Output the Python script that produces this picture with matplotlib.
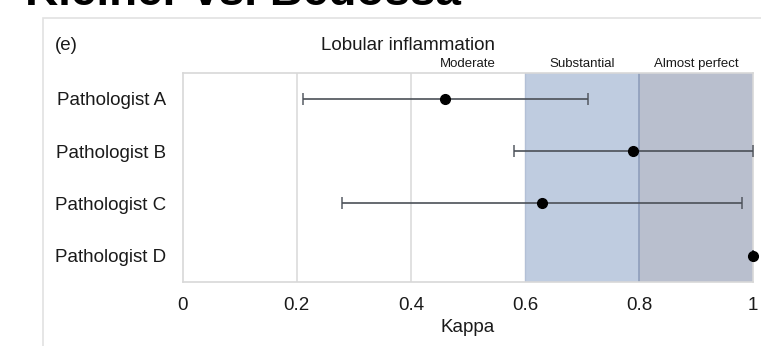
import numpy as np
import matplotlib
matplotlib.use('Agg')
import matplotlib.pyplot as plt
from matplotlib.patches import Rectangle

plt.rcParams['font.family'] = ['Liberation Sans', 'DejaVu Sans']

# data
pathologists = ['Pathologist A', 'Pathologist B', 'Pathologist C', 'Pathologist D']
kappa = [0.46, 0.79, 0.63, 1.0]
ci_low = [0.21, 0.58, 0.28, 1.0]
ci_high = [0.71, 1.0, 0.98, 1.0]
xticks = [0, 0.2, 0.4, 0.6, 0.8, 1]
xticklabels = ['0', '0.2', '0.4', '0.6', '0.8', '1']
bands = ['Moderate', 'Substantial', 'Almost perfect']
band_centers = [0.5, 0.7, 0.9]

W, H = 761, 346
fig = plt.figure(figsize=(W / 100, H / 100), dpi=100)

# outer panel frame (cut by the crop)
fig.patches.append(Rectangle((43 / W, -0.1), 1.0, 1 - 18 / H + 0.1,
                             transform=fig.transFigure, fill=False,
                             edgecolor='#e2e2e2', linewidth=1.2))

# big heading, cropped at the top edge like in the source
fig.text(25 / W, 1 - 5 / H, 'Kleiner vs. Bedossa', fontsize=33,
         fontweight='bold', ha='left', va='baseline', color='black')

ax = fig.add_axes([182.7 / W, 1 - 281.7 / H, (753.3 - 182.7) / W, 209 / H])

# agreement bands
ax.axvspan(0.6, 0.8, color='#bfcce0', zorder=0, linewidth=0)
ax.axvspan(0.8, 1.0, color='#b9bfce', zorder=0, linewidth=0)
ax.axvline(0.6, color='#b3c0d6', linewidth=1, zorder=1)
ax.axvline(0.8, color='#8e9ebb', linewidth=1.2, zorder=1)
for g in [0.2, 0.4]:
    ax.axvline(g, color='#dcdcdc', linewidth=1.2, zorder=1)

y = np.arange(len(pathologists))
err = [np.array(kappa) - np.array(ci_low), np.array(ci_high) - np.array(kappa)]
ax.errorbar(kappa, y, xerr=err, fmt='none', ecolor='#4a4f57', elinewidth=1.4,
            capsize=4, capthick=1.2, alpha=0.85, zorder=3)
ax.plot(kappa, y, 'o', color='black', markersize=7, zorder=4, clip_on=False)

ax.set_xlim(0, 1)
ax.set_ylim(3.5, -0.5)
ax.set_xticks(xticks)
ax.set_xticklabels(xticklabels, fontsize=13.5)
ax.set_yticks(y)
ax.set_yticklabels(pathologists, fontsize=13.5)
ax.tick_params(axis='both', length=0, colors='#1a1a1a')
ax.tick_params(axis='x', pad=11)
ax.tick_params(axis='y', pad=12)
for s in ax.spines.values():
    s.set_color('#d8d8d8')
    s.set_linewidth(1.2)

for name, c in zip(bands, band_centers):
    ax.text(c, 1.012, name, transform=ax.get_xaxis_transform(), ha='center',
            va='bottom', fontsize=9.5, color='#1a1a1a')

fig.text(408 / W, 1 - 45 / H, 'Lobular inflammation', fontsize=13.5,
         ha='center', va='center', color='#1a1a1a')
fig.text(55 / W, 1 - 45 / H, '(e)', fontsize=13.5, ha='left', va='center',
         color='#1a1a1a')
fig.text(468 / W, 1 - 327 / H, 'Kappa', fontsize=13.5, ha='center',
         va='center', color='#1a1a1a')

fig.savefig('out.png', dpi=100)
